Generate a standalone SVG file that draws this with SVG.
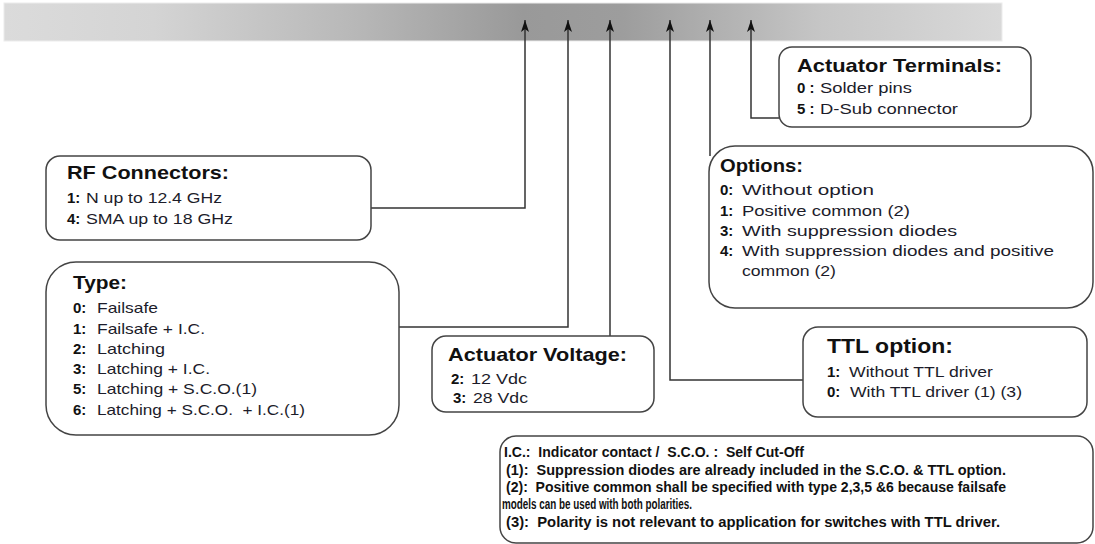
<svg xmlns="http://www.w3.org/2000/svg" width="1095" height="544" viewBox="0 0 1095 544">
<defs>
<linearGradient id="barg" x1="0" y1="0" x2="1" y2="0">
<stop offset="0" stop-color="#dbdbdb"/>
<stop offset="0.15" stop-color="#d4d4d4"/>
<stop offset="0.35" stop-color="#b8b8b8"/>
<stop offset="0.52" stop-color="#999999"/>
<stop offset="0.62" stop-color="#9d9d9d"/>
<stop offset="0.82" stop-color="#c6c6c6"/>
<stop offset="1" stop-color="#d9d9d9"/>
</linearGradient>
<marker id="arr" viewBox="0 0 12 8" refX="12" refY="4" markerWidth="12" markerHeight="8" orient="auto" markerUnits="userSpaceOnUse">
<path d="M0,0 L12,4 L0,8 L3,4 z" fill="#111"/>
</marker>
</defs>
<style>
.box{fill:#fff;stroke:#444;stroke-width:1.5}
.con{fill:none;stroke:#333;stroke-width:1.5}
text{font-family:"Liberation Sans",Arial,sans-serif;fill:#1c1c2a}
.t{font-weight:bold;font-size:19px;fill:#111}
.b{font-size:15px}
.k{font-weight:bold;font-size:15px;fill:#111}
.n{font-weight:bold;font-size:14px;fill:#111}
</style>
<rect id="bar" x="4" y="3" width="998" height="38" fill="url(#barg)" stroke="#ececec" stroke-width="1"/>
<g id="connectors">
<path class="con" d="M371,208 H525 V20" marker-end="url(#arr)"/>
<path class="con" d="M399,327 H568 V20" marker-end="url(#arr)"/>
<path class="con" d="M610,336 V20" marker-end="url(#arr)"/>
<path class="con" d="M803,380 H670 V20" marker-end="url(#arr)"/>
<path class="con" d="M710,156 V20" marker-end="url(#arr)"/>
<path class="con" d="M779,118 H751 V20" marker-end="url(#arr)"/>
</g>
<g id="terminals">
<rect class="box" x="779" y="47" width="252" height="80" rx="13"/>
<text class="t" x="797" y="72" textLength="205" lengthAdjust="spacingAndGlyphs">Actuator Terminals:</text>
<text class="k" x="797" y="93">0 :</text>
<text class="b" x="820" y="93" textLength="92" lengthAdjust="spacingAndGlyphs">Solder pins</text>
<text class="k" x="797" y="114">5 :</text>
<text class="b" x="820" y="114" textLength="138" lengthAdjust="spacingAndGlyphs">D-Sub connector</text>
</g>
<g id="options">
<rect class="box" x="709" y="146" width="384" height="162" rx="26"/>
<text class="t" x="720" y="172" textLength="83" lengthAdjust="spacingAndGlyphs">Options:</text>
<text class="k" x="720" y="195">0:</text>
<text class="b" x="742" y="195" textLength="132" lengthAdjust="spacingAndGlyphs">Without option</text>
<text class="k" x="720" y="216">1:</text>
<text class="b" x="742" y="216" textLength="168" lengthAdjust="spacingAndGlyphs">Positive common (2)</text>
<text class="k" x="720" y="236">3:</text>
<text class="b" x="742" y="236" textLength="215" lengthAdjust="spacingAndGlyphs">With suppression diodes</text>
<text class="k" x="720" y="256">4:</text>
<text class="b" x="742" y="256" textLength="312" lengthAdjust="spacingAndGlyphs">With suppression diodes and positive</text>
<text class="b" x="742" y="276" textLength="94" lengthAdjust="spacingAndGlyphs">common (2)</text>
</g>
<g id="rf">
<rect class="box" x="46" y="156" width="325" height="84" rx="14"/>
<text class="t" x="67" y="179" textLength="162" lengthAdjust="spacingAndGlyphs">RF Connectors:</text>
<text class="k" x="67" y="203">1:</text>
<text class="b" x="86" y="203" textLength="136" lengthAdjust="spacingAndGlyphs">N up to 12.4 GHz</text>
<text class="k" x="67" y="224">4:</text>
<text class="b" x="86" y="224" textLength="147" lengthAdjust="spacingAndGlyphs">SMA up to 18 GHz</text>
</g>
<g id="type">
<rect class="box" x="46" y="262" width="353" height="173" rx="30"/>
<text class="t" x="73" y="289" textLength="54" lengthAdjust="spacingAndGlyphs">Type:</text>
<text class="k" x="73" y="313">0:</text>
<text class="b" x="97" y="313" textLength="61" lengthAdjust="spacingAndGlyphs">Failsafe</text>
<text class="k" x="73" y="334">1:</text>
<text class="b" x="97" y="334" textLength="108" lengthAdjust="spacingAndGlyphs">Failsafe + I.C.</text>
<text class="k" x="73" y="354">2:</text>
<text class="b" x="97" y="354" textLength="68" lengthAdjust="spacingAndGlyphs">Latching</text>
<text class="k" x="73" y="374">3:</text>
<text class="b" x="97" y="374" textLength="113" lengthAdjust="spacingAndGlyphs">Latching + I.C.</text>
<text class="k" x="73" y="394">5:</text>
<text class="b" x="97" y="394" textLength="160" lengthAdjust="spacingAndGlyphs">Latching + S.C.O.(1)</text>
<text class="k" x="73" y="415">6:</text>
<text class="b" x="97" y="415" textLength="208" lengthAdjust="spacingAndGlyphs" xml:space="preserve">Latching + S.C.O.  + I.C.(1)</text>
</g>
<g id="voltage">
<rect class="box" x="432" y="336" width="222" height="76" rx="14"/>
<text class="t" x="448" y="361" textLength="179" lengthAdjust="spacingAndGlyphs">Actuator Voltage:</text>
<text class="k" x="451" y="384">2:</text>
<text class="b" x="471" y="384" textLength="56" lengthAdjust="spacingAndGlyphs">12 Vdc</text>
<text class="k" x="453" y="403">3:</text>
<text class="b" x="473" y="403" textLength="55" lengthAdjust="spacingAndGlyphs">28 Vdc</text>
</g>
<g id="ttl">
<rect class="box" x="803" y="327" width="284" height="90" rx="15"/>
<text class="t" x="827" y="353" textLength="126" lengthAdjust="spacingAndGlyphs" style="font-size:21px">TTL option:</text>
<text class="k" x="827" y="377">1:</text>
<text class="b" x="849" y="377" textLength="144" lengthAdjust="spacingAndGlyphs">Without TTL driver</text>
<text class="k" x="827" y="397">0:</text>
<text class="b" x="850" y="397" textLength="172" lengthAdjust="spacingAndGlyphs">With TTL driver (1) (3)</text>
</g>
<g id="notes">
<rect class="box" x="500" y="436" width="593" height="107" rx="16"/>
<text class="n" x="504" y="457" textLength="300" lengthAdjust="spacingAndGlyphs" xml:space="preserve">I.C.:  Indicator contact /  S.C.O. :  Self Cut-Off</text>
<text class="n" x="506" y="475" textLength="500" lengthAdjust="spacingAndGlyphs" xml:space="preserve">(1):  Suppression diodes are already included in the S.C.O. &amp; TTL option.</text>
<text class="n" x="506" y="492" textLength="500" lengthAdjust="spacingAndGlyphs" xml:space="preserve">(2):  Positive common shall be specified with type 2,3,5 &amp;6 because failsafe</text>
<text class="n" x="502" y="509" textLength="190" lengthAdjust="spacingAndGlyphs">models can be used with both polarities.</text>
<text class="n" x="506" y="527" textLength="494" lengthAdjust="spacingAndGlyphs" xml:space="preserve">(3):  Polarity is not relevant to application for switches with TTL driver.</text>
</g>
</svg>
